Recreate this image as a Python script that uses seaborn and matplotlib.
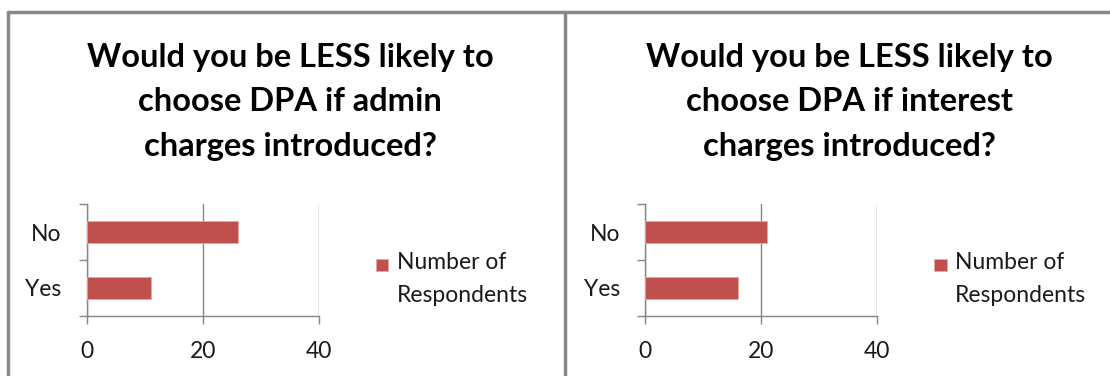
import matplotlib
matplotlib.use("Agg")
import matplotlib.pyplot as plt
import seaborn as sns
import pandas as pd
from matplotlib.patches import Rectangle
from matplotlib.lines import Line2D
from matplotlib.container import BarContainer
from matplotlib.legend_handler import HandlerPatch, update_from_first_child

# ---- data ----
categories = ["No", "Yes"]
admin_values = [26, 11]
interest_values = [21, 16]
titles = [
    "Would you be LESS likely to\nchoose DPA if admin\ncharges introduced?",
    "Would you be LESS likely to\nchoose DPA if interest\ncharges introduced?",
]
series_label = "Number of\nRespondents"
x_ticks = [0, 20, 40]

sns.set_theme(style="white")
plt.rcParams["font.family"] = ["Lato", "DejaVu Sans"]

W, H = 1110, 376
fig = plt.figure(figsize=(W / 100, H / 100), dpi=100)

BAR = "#C0504D"
GRID = "#868686"
TXT = "#1a1a1a"
FS = 16.5


def fx(px):
    return px / W


def fy(py):
    return 1 - py / H


def handle_func(legend, orig_handle, xdescent, ydescent, width, height, fontsize):
    s = 9.0
    cy = -ydescent + 0.95 * fontsize
    return Rectangle((-xdescent + (width - s) / 2, cy - s / 2), s, s)


handler = HandlerPatch(patch_func=handle_func, update_func=update_from_first_child)

panels = [
    (86.7, admin_values, titles[0], 290),
    (645.0, interest_values, titles[1], 849),
]

for x0, vals, title, tcx in panels:
    ax = fig.add_axes([fx(x0), fy(316), fx(232), 112 / H])
    df = pd.DataFrame({"cat": categories, "val": vals})
    sns.barplot(data=df, x="val", y="cat", orient="h", ax=ax, color=BAR,
                width=0.38, saturation=1, edgecolor="#E8A6A4", linewidth=0.6,
                label=series_label, zorder=3)
    ax.set_xlim(0, 40)
    ax.set_ylim(1.5, -0.5)
    ax.set_xlabel("")
    ax.set_ylabel("")
    ax.set_xticks(x_ticks)
    ax.set_xticklabels([str(t) for t in x_ticks], fontsize=FS, color=TXT)
    ax.tick_params(axis="x", length=6, width=1, color=GRID, pad=12, direction="out", bottom=True)
    ax.set_yticks([0, 1])
    ax.set_yticklabels(categories, fontsize=FS, color=TXT)
    ax.tick_params(axis="y", which="major", length=0, pad=18, left=True)
    ax.set_yticks([-0.5, 0.5, 1.5], minor=True)
    ax.tick_params(axis="y", which="minor", length=6, width=1, color=GRID, direction="out", left=True)
    ax.grid(axis="x", color=GRID, linewidth=1, zorder=0)
    ax.grid(axis="y", visible=False)
    for side in ["top", "right"]:
        ax.spines[side].set_visible(False)
    for side in ["left", "bottom"]:
        ax.spines[side].set_color(GRID)
        ax.spines[side].set_linewidth(1)
    ax.set_facecolor("none")
    leg = ax.legend(loc="upper left", bbox_to_anchor=(1.243, 0.57), frameon=False,
                    fontsize=FS, handlelength=0.6, handleheight=0.6, handletextpad=0.35,
                    borderpad=0, borderaxespad=0, labelspacing=0,
                    handler_map={BarContainer: handler, Rectangle: handler})
    for t in leg.get_texts():
        t.set_color(TXT)
        t.set_linespacing(1.7)
    fig.text(fx(tcx), fy(43), title, ha="center", va="top", fontsize=23.5,
             fontweight="bold", color="black", linespacing=1.64)

# panel borders
border = dict(color="#898989", linewidth=2.5, transform=fig.transFigure)
fig.add_artist(Line2D([fx(8), 1], [fy(12), fy(12)], **border))
fig.add_artist(Line2D([fx(8), fx(8)], [fy(12), 0], **border))
fig.add_artist(Line2D([fx(565), fx(565)], [fy(12), 0], **border))

fig.savefig("out.png", dpi=100)
